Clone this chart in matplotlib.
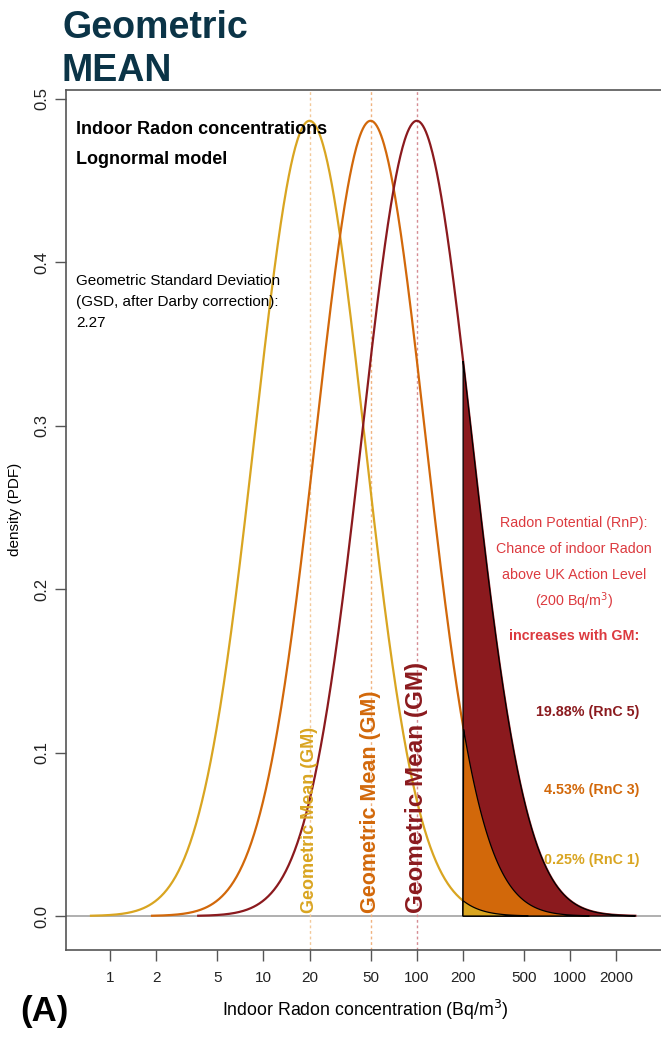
import numpy as np
from matplotlib import pyplot as plt

# lognormal model parameters
gsd = 2.27
gm_values = [20, 50, 100]
gm_colors = ['#D9A521', '#D2680A', '#8B1A1E']
gm_line_colors = ['#F3C99A', '#F0B27F', '#D58C93']
gm_label_sizes = [13, 15.5, 17.5]
action_level = 200
rnp_labels = ['0.25% (RnC 1)', '4.53% (RnC 3)', '19.88% (RnC 5)']
rnp_label_y = [0.0343, 0.0772, 0.125]

x_ticks = [1, 2, 5, 10, 20, 50, 100, 200, 500, 1000, 2000]
y_ticks = [0.0, 0.1, 0.2, 0.3, 0.4, 0.5]

plt.rcParams['font.family'] = ['Liberation Sans', 'DejaVu Sans']

sigma = np.log(gsd)


def pdf(x, gm):
    # density of ln(x), so the curve height is the same on a log axis
    z = (np.log(x) - np.log(gm)) / sigma
    return np.exp(-0.5 * z**2) / (sigma * np.sqrt(2 * np.pi))


fig = plt.figure(figsize=(6.61, 10.38), dpi=100)
ax = fig.add_axes([66/661, 1 - 950/1038, 1 - 66/661 + 0.02, (950 - 90)/1038])

ax.set_xscale('log')
ax.set_xlim(0.518, 3524 * 1.35)
ax.set_ylim(-0.0208, 0.5055)

ax.axhline(0, color='#9A9A9A', lw=1.1, zorder=1)

for gm, c in zip(gm_values, gm_line_colors):
    ax.axvline(gm, color=c, lw=1.0, ls=(0, (2, 2)), zorder=1)

curves = []
for gm, c in zip(gm_values, gm_colors):
    x = np.exp(np.linspace(np.log(gm) - 4 * sigma, np.log(gm) + 4 * sigma, 600))
    y = pdf(x, gm)
    curves.append((x, y))
    ax.plot(x, y, color=c, lw=1.6, zorder=3)

# tail above the action level, largest GM drawn first
for (x, y), c in reversed(list(zip(curves, gm_colors))):
    m = x >= action_level
    xs = np.concatenate([[action_level], x[m], [x[m][-1], action_level]])
    ys = np.concatenate([[0], y[m], [0, 0]])
    ax.fill(xs, ys, facecolor=c, edgecolor='black', lw=0.9, zorder=4)

for gm, c, fs in zip(gm_values, gm_colors, gm_label_sizes):
    ax.text(gm, 0.002, 'Geometric Mean (GM)', rotation=90, ha='center', va='bottom',
            color=c, fontsize=fs, fontweight='bold', zorder=5)

ax.spines['right'].set_visible(False)
for s in ['left', 'top', 'bottom']:
    ax.spines[s].set_color('#555555')
    ax.spines[s].set_linewidth(1.2)

ax.set_xticks(x_ticks)
ax.set_xticklabels([str(v) for v in x_ticks])
ax.xaxis.set_minor_locator(plt.NullLocator())
ax.set_yticks(y_ticks)
ax.set_yticklabels([f'{v:.1f}' for v in y_ticks], rotation=90, va='center')
ax.tick_params(axis='both', direction='out', length=8, width=1.0, color='#555555',
               labelcolor='#222222')
ax.tick_params(axis='x', pad=7, labelsize=11)
ax.tick_params(axis='y', pad=4, labelsize=12)

ax.set_ylabel('density (PDF)', fontsize=11)
ax.yaxis.set_label_coords(-0.072, 0.512)
ax.set_xlabel('Indoor Radon concentration (Bq/m$^3$)', fontsize=12.8)
ax.xaxis.set_label_coords(0.492, -0.056)

ax.text(0.6, 0.4816, 'Indoor Radon concentrations', fontsize=13, fontweight='bold', va='center')
ax.text(0.6, 0.463, 'Lognormal model', fontsize=13, fontweight='bold', va='center')
for i, t in enumerate(['Geometric Standard Deviation', '(GSD, after Darby correction):', str(gsd)]):
    ax.text(0.6, 0.3885 - i * 0.0129, t, fontsize=11, va='center')

red = '#DC3A3F'
rnp_lines = ['Radon Potential (RnP):', 'Chance of indoor Radon', 'above UK Action Level',
             '(200 Bq/m$^3$)']
for i, t in enumerate(rnp_lines):
    ax.text(1060, 0.2408 - i * 0.0161, t, color=red, fontsize=10.3, ha='center', va='center')
ax.text(1060, 0.1716, 'increases with GM:', color=red, fontsize=10.3, fontweight='bold',
        ha='center', va='center')

for t, yv, c in zip(rnp_labels, rnp_label_y, gm_colors):
    ax.text(2820, yv, t, color=c, fontsize=10.3, fontweight='bold', ha='right', va='center')

fig.text(62/661, 1 - 38/1038, 'Geometric', fontsize=27, fontweight='bold',
         color='#0B3447', va='baseline')
fig.text(62/661, 1 - 81/1038, 'MEAN', fontsize=27, fontweight='bold',
         color='#0B3447', va='baseline')
fig.text(20/661, 1 - 1011/1038, '(A)', fontsize=25, fontweight='bold', va='center')

fig.savefig('out.png', dpi=100)
